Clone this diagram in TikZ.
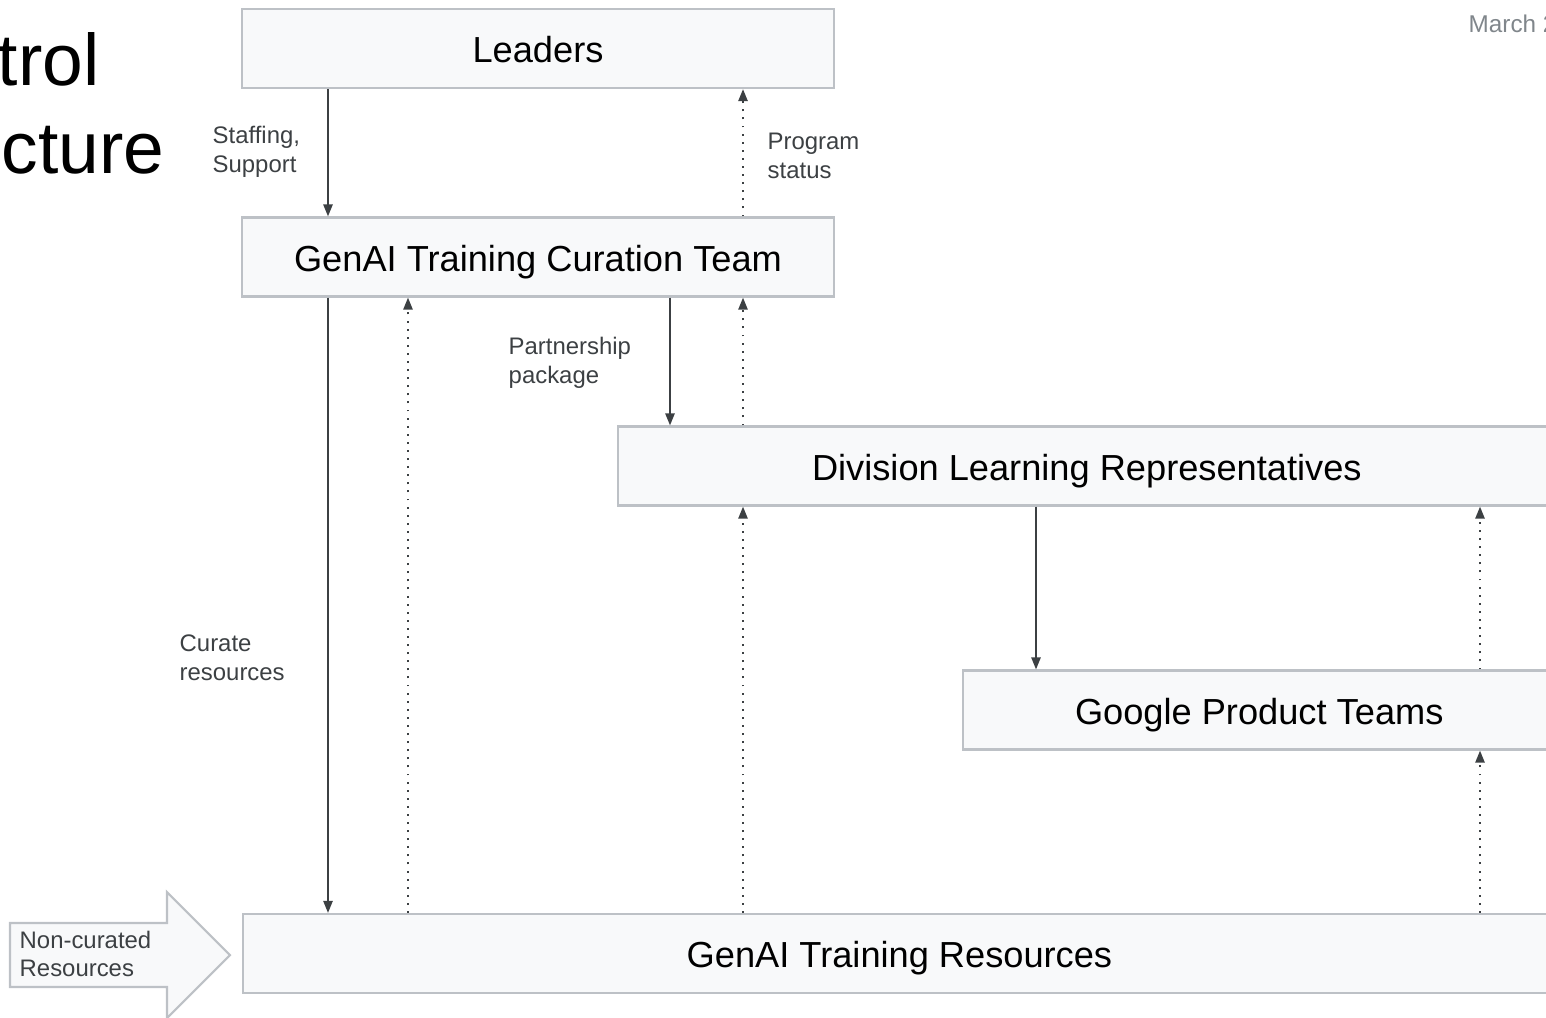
\documentclass[tikz,border=0pt]{standalone}
\usepackage{fontspec}
\setmainfont{Liberation Sans}
\usetikzlibrary{arrows.meta}

\definecolor{boxfill}{HTML}{F8F9FA}
\definecolor{boxline}{HTML}{BDC1C6}
\definecolor{inkgray}{HTML}{3C4043}
\definecolor{dategray}{HTML}{80868B}

\tikzstyle{teambox} = [draw=boxline, fill=boxfill, line width=0.6pt,
    rectangle, inner sep=0pt, minimum height=0.79cm,
    text height=0.8em, text depth=0pt,
    font=\fontsize{10.3}{12}\selectfont]
\tikzstyle{note} = [anchor=west, align=left, inner sep=0pt, text=inkgray,
    font=\fontsize{6.8}{8.2}\selectfont]
\tikzstyle{push} = [draw=inkgray, line width=0.55pt,
    -{Triangle[length=3.4pt, width=2.6pt]}]
\tikzstyle{report} = [push, dash pattern=on 0.55pt off 1.75pt]

\begin{document}
\begin{tikzpicture}[x=0.01cm, y=-0.01cm]
    \useasboundingbox (0,0) rectangle (1546,1017);
%------------ Titel und Datum ---------------------
    \node[anchor=base east, inner sep=0pt, font=\fontsize{20.8}{24}\selectfont] (titletop) at (100,85) {trol};
    \node[anchor=base east, inner sep=0pt, font=\fontsize{20.8}{24}\selectfont] (titlebot) at (165,173) {cture};
    \node[anchor=base west, inner sep=0pt, text=dategray, font=\fontsize{6.9}{8}\selectfont] (date) at (1468,32) {March 2};
%------------ Boxen ---------------------
    \node [teambox, minimum width=5.92cm] (leaders) at (538,48.5) {Leaders};
    \node [teambox, minimum width=5.92cm] (curation) at (538,257) {GenAI Training Curation Team};
    \node [teambox, minimum width=9.37cm, anchor=west] (division) at (617,466) {Division Learning Representatives};
    \node [teambox, minimum width=5.92cm, anchor=west] (product) at (962,710) {Google Product Teams};
    \node [teambox, minimum width=13.12cm, anchor=west] (resources) at (242,953.5) {GenAI Training Resources};
%------------ Non-curated Pfeil ---------------------
    \draw[draw=boxline, fill=boxfill, line width=0.6pt] (10,923) -- (167,923) -- (167,892) -- (230,955)
        -- (167,1018) -- (167,987) -- (10,987) -- cycle;
    \node[note] (noncurated) at (19,954) {Non-curated\\Resources};
%------------ Verbindungen ---------------------
    \coordinate (xa) at (328,0);
    \coordinate (xb) at (408,0);
    \coordinate (xc) at (670,0);
    \coordinate (xd) at (743,0);
    \coordinate (xe) at (1036,0);
    \coordinate (xf) at (1480,0);
    \draw[push] (leaders.south -| xa) -- (curation.north -| xa);
    \draw[report] (curation.north -| xd) -- (leaders.south -| xd);
    \draw[push] (curation.south -| xa) -- (resources.north -| xa);
    \draw[report] (resources.north -| xb) -- (curation.south -| xb);
    \draw[push] (curation.south -| xc) -- (division.north -| xc);
    \draw[report] (division.north -| xd) -- (curation.south -| xd);
    \draw[report] (resources.north -| xd) -- (division.south -| xd);
    \draw[push] (division.south -| xe) -- (product.north -| xe);
    \draw[report] (product.north -| xf) -- (division.south -| xf);
    \draw[report] (resources.north -| xf) -- (product.south -| xf);
%------------ Beschriftungen ---------------------
    \node[note] (staffing) at (212,152) {Staffing,\\Support};
    \node[note] (status) at (767,156) {Program\\status};
    \node[note] (package) at (508,363) {Partnership\\package};
    \node[note] (curate) at (179,658) {Curate\\resources};
\end{tikzpicture}
\end{document}
